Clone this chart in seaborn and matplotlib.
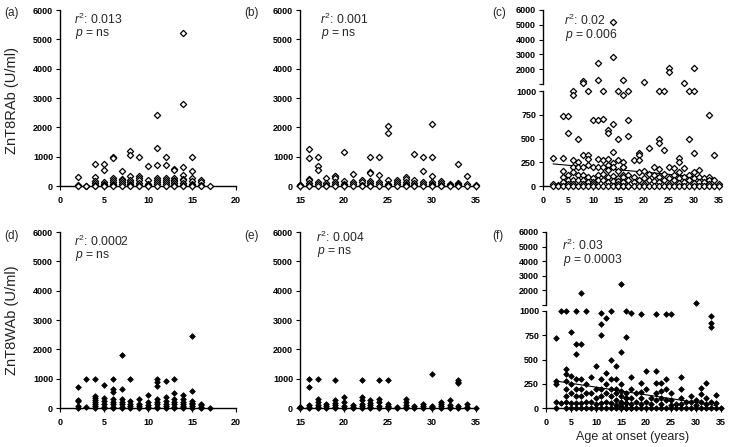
import matplotlib
matplotlib.use('Agg')
import matplotlib.pyplot as plt
import numpy as np
import pandas as pd
import seaborn as sns

# ZnT8RAb titres (U/ml) by age at onset, onset <= 17 y  -> panel (a)
rab_young = {2: [290, 20, 0], 3: [10, 0], 4: [740, 300, 160, 100, 40, 0],
             5: [740, 560, 120, 60, 20, 0], 6: [1000, 960, 270, 200, 150, 60, 20, 0],
             7: [500, 250, 200, 120, 60, 0], 8: [1200, 1050, 330, 200, 120, 60, 20, 0],
             9: [1000, 330, 280, 220, 100, 40, 0], 10: [690, 200, 80, 40, 20, 0],
             11: [2430, 1300, 700, 280, 200, 120, 60, 0], 12: [1000, 710, 270, 200, 130, 60, 0],
             13: [590, 560, 280, 220, 170, 100, 40, 0], 14: [5200, 2800, 650, 360, 240, 200, 110, 50, 0],
             15: [1000, 500, 270, 160, 80, 20, 0], 16: [200, 120, 40, 0], 17: [0]}
# onset 15-35 y -> panel (b)
rab_adult = {15: [50, 20, 0], 16: [1250, 960, 250, 200, 100, 40, 0], 17: [1000, 690, 530, 120, 60, 0],
             18: [270, 100, 40, 0], 19: [350, 330, 270, 150, 60, 0], 20: [1150, 160, 80, 20, 0],
             21: [400, 130, 60, 0], 22: [200, 120, 50, 0], 23: [1000, 490, 450, 180, 100, 40, 0],
             24: [1000, 380, 130, 60, 0], 25: [2050, 1800, 200, 80, 20, 0], 26: [190, 120, 60, 0],
             27: [300, 250, 150, 80, 30, 0], 28: [1080, 190, 100, 40, 0], 29: [1000, 500, 120, 60, 0],
             30: [2100, 1000, 350, 150, 80, 30, 0], 31: [170, 100, 40, 0], 32: [80, 40, 0],
             33: [750, 100, 60, 20, 0], 34: [330, 60, 0], 35: [20, 0]}
# ZnT8WAb titres -> panels (d) and (e)
wab_young = {2: [720, 280, 250, 60, 0], 3: [1000, 50], 4: [1000, 400, 350, 280, 200, 120, 60, 0],
             5: [780, 330, 250, 150, 50, 0], 6: [1000, 660, 560, 300, 200, 120, 50, 0],
             7: [1800, 660, 300, 200, 120, 50, 0], 8: [1000, 250, 150, 60, 0], 9: [320, 150, 60, 0],
             10: [430, 200, 100, 40, 0], 11: [980, 870, 750, 300, 200, 120, 50, 0],
             12: [930, 360, 250, 150, 60, 0], 13: [1000, 500, 300, 200, 120, 50, 0],
             14: [430, 300, 200, 150, 80, 30, 0], 15: [2450, 580, 250, 180, 120, 60, 0],
             16: [150, 100, 50, 0], 17: [0]}
wab_adult = {15: [50, 20, 0], 16: [1000, 730, 100, 50, 0], 17: [980, 320, 200, 100, 40, 0],
             18: [150, 60, 0], 19: [970, 260, 170, 100, 40, 0], 20: [380, 200, 60, 0], 21: [100, 40, 0],
             22: [970, 380, 260, 150, 80, 0], 23: [260, 180, 100, 40, 0], 24: [970, 300, 200, 80, 0],
             25: [970, 150, 80, 30, 0], 26: [40, 0], 27: [320, 200, 100, 40, 0], 28: [60, 0],
             29: [120, 60, 0], 30: [1170, 80, 30, 0], 31: [210, 140, 60, 0], 32: [260, 100, 40, 0],
             33: [950, 880, 840, 60, 0], 34: [130, 50, 0], 35: [0]}

panel_tags = ['(a)', '(b)', '(c)', '(d)', '(e)', '(f)']
r2_vals = ['0.013', '0.001', '0.02', '0.0002', '0.004', '0.03']
p_vals = ['ns', 'ns', '0.006', 'ns', 'ns', '0.0003']
# fitted lines (c) and (f): intercept, slope
fit_rab = (242, -4.75)
fit_wab = (294, -7.9)

sns.set_theme(style='ticks')
plt.rcParams['font.family'] = ['Liberation Sans', 'DejaVu Sans']
plt.rcParams['mathtext.fontset'] = 'custom'
plt.rcParams['mathtext.rm'] = 'Liberation Sans'
plt.rcParams['mathtext.it'] = 'Liberation Sans:italic'

W, H = 729, 447
fig = plt.figure(figsize=(W / 100, H / 100), dpi=100)


def box(left, top, right, bottom):
    return fig.add_axes([left / W, 1 - bottom / H, (right - left) / W, (bottom - top) / H])


def to_frame(points):
    rows = [(age, v) for age, vals in points.items() for v in vals]
    return pd.DataFrame(rows, columns=['age', 'titre'])


def draw_points(ax, df, filled):
    if filled:
        sns.scatterplot(data=df, x='age', y='titre', ax=ax, marker='D', s=8, color='black',
                        edgecolor='black', linewidth=0.6, clip_on=False, legend=False, zorder=3)
    else:
        sns.scatterplot(data=df, x='age', y='titre', ax=ax, marker='D', s=10, color='white',
                        edgecolor='black', linewidth=0.9, clip_on=False, legend=False, zorder=3)


def style(ax, xlim, xticks, ylim, yticks, ylabels=None, bottom=True):
    ax.set_xlim(xlim)
    ax.set_ylim(ylim)
    ax.set_xticks(xticks)
    ax.set_yticks(yticks)
    if ylabels is not None:
        ax.set_yticklabels(ylabels)
    ax.set_xlabel('')
    ax.set_ylabel('')
    for side in ['top', 'right']:
        ax.spines[side].set_visible(False)
    for side in ['left', 'bottom']:
        ax.spines[side].set_color('black')
        ax.spines[side].set_linewidth(1.0)
    ax.tick_params(labelsize=6.5, length=3, width=0.8, pad=2, colors='black')
    ax.tick_params(axis='x', pad=4)
    for lab in ax.get_xticklabels() + ax.get_yticklabels():
        lab.set_fontweight('bold')
    if not bottom:
        ax.spines['bottom'].set_visible(False)
        ax.tick_params(axis='x', bottom=False, labelbottom=False)
    ax.patch.set_alpha(0)


def plain_panel(ax, df, filled, xlim, xticks):
    draw_points(ax, df, filled)
    style(ax, xlim, xticks, (0, 6000), range(0, 6001, 1000))


def broken_panel(ax_top, ax_bot, df, filled, fit):
    low = df[df.titre <= 1000]
    high = df[df.titre > 1000]
    draw_points(ax_bot, low, filled)
    draw_points(ax_top, high, filled)
    xs = np.array([df.age.min(), df.age.max() - 1])
    ax_bot.plot(xs, fit[0] + fit[1] * xs, color='black', lw=0.8, zorder=2)
    style(ax_bot, (0, 35), range(0, 36, 5), (0, 1000), [0, 250, 500, 750, 1000])
    style(ax_top, (0, 35), range(0, 36, 5), (1000, 6000), range(1000, 6001, 1000),
          ['', '2000', '3000', '4000', '5000', '6000'], bottom=False)


rab_a, rab_b = to_frame(rab_young), to_frame(rab_adult)
wab_d, wab_e = to_frame(wab_young), to_frame(wab_adult)

ax_a = box(60, 10, 236, 186)
ax_b = box(300, 10, 476, 186)
ax_ct = box(543, 10, 719, 84)
ax_cb = box(543, 91, 719, 186)
ax_d = box(60, 232, 236, 408)
ax_e = box(300, 232, 476, 408)
ax_ft = box(546, 232, 721, 305)
ax_fb = box(546, 311, 721, 408)

plain_panel(ax_a, rab_a, False, (0, 20), range(0, 21, 5))
plain_panel(ax_b, rab_b, False, (15, 35), range(15, 36, 5))
broken_panel(ax_ct, ax_cb, pd.concat([rab_a, rab_b]), False, fit_rab)
plain_panel(ax_d, wab_d, True, (0, 20), range(0, 21, 5))
plain_panel(ax_e, wab_e, True, (15, 35), range(15, 36, 5))
broken_panel(ax_ft, ax_fb, pd.concat([wab_d, wab_e]), True, fit_wab)


def px_text(x, y, s, **kw):
    fig.text(x / W, 1 - y / H, s, **kw)


# panel tags and stats
tag_pos = [(4, 13), (244, 13), (492, 13), (4, 236), (244, 236), (492, 236)]
stat_pos = [(74, 19), (320, 19), (564, 20), (74, 241), (316, 237), (562, 245)]
for i in range(6):
    px_text(*tag_pos[i], panel_tags[i], fontsize=8.5, va='center')
    sx, sy = stat_pos[i]
    px_text(sx, sy, r'$\it{r}^2$' + ': ' + r2_vals[i], fontsize=8.7, va='center')
    px_text(sx + 1, sy + 15, r'$\it{p}$' + ' = ' + p_vals[i], fontsize=8.7, va='center')

px_text(12, 100, 'ZnT8RAb (U/ml)', fontsize=10.5, rotation=90, ha='center', va='center', color='#222222')
px_text(12, 320, 'ZnT8WAb (U/ml)', fontsize=10.5, rotation=90, ha='center', va='center', color='#222222')
px_text(633, 437, 'Age at onset (years)', fontsize=9, ha='center', va='center', color='#222222')

fig.savefig('out.png', dpi=100)
